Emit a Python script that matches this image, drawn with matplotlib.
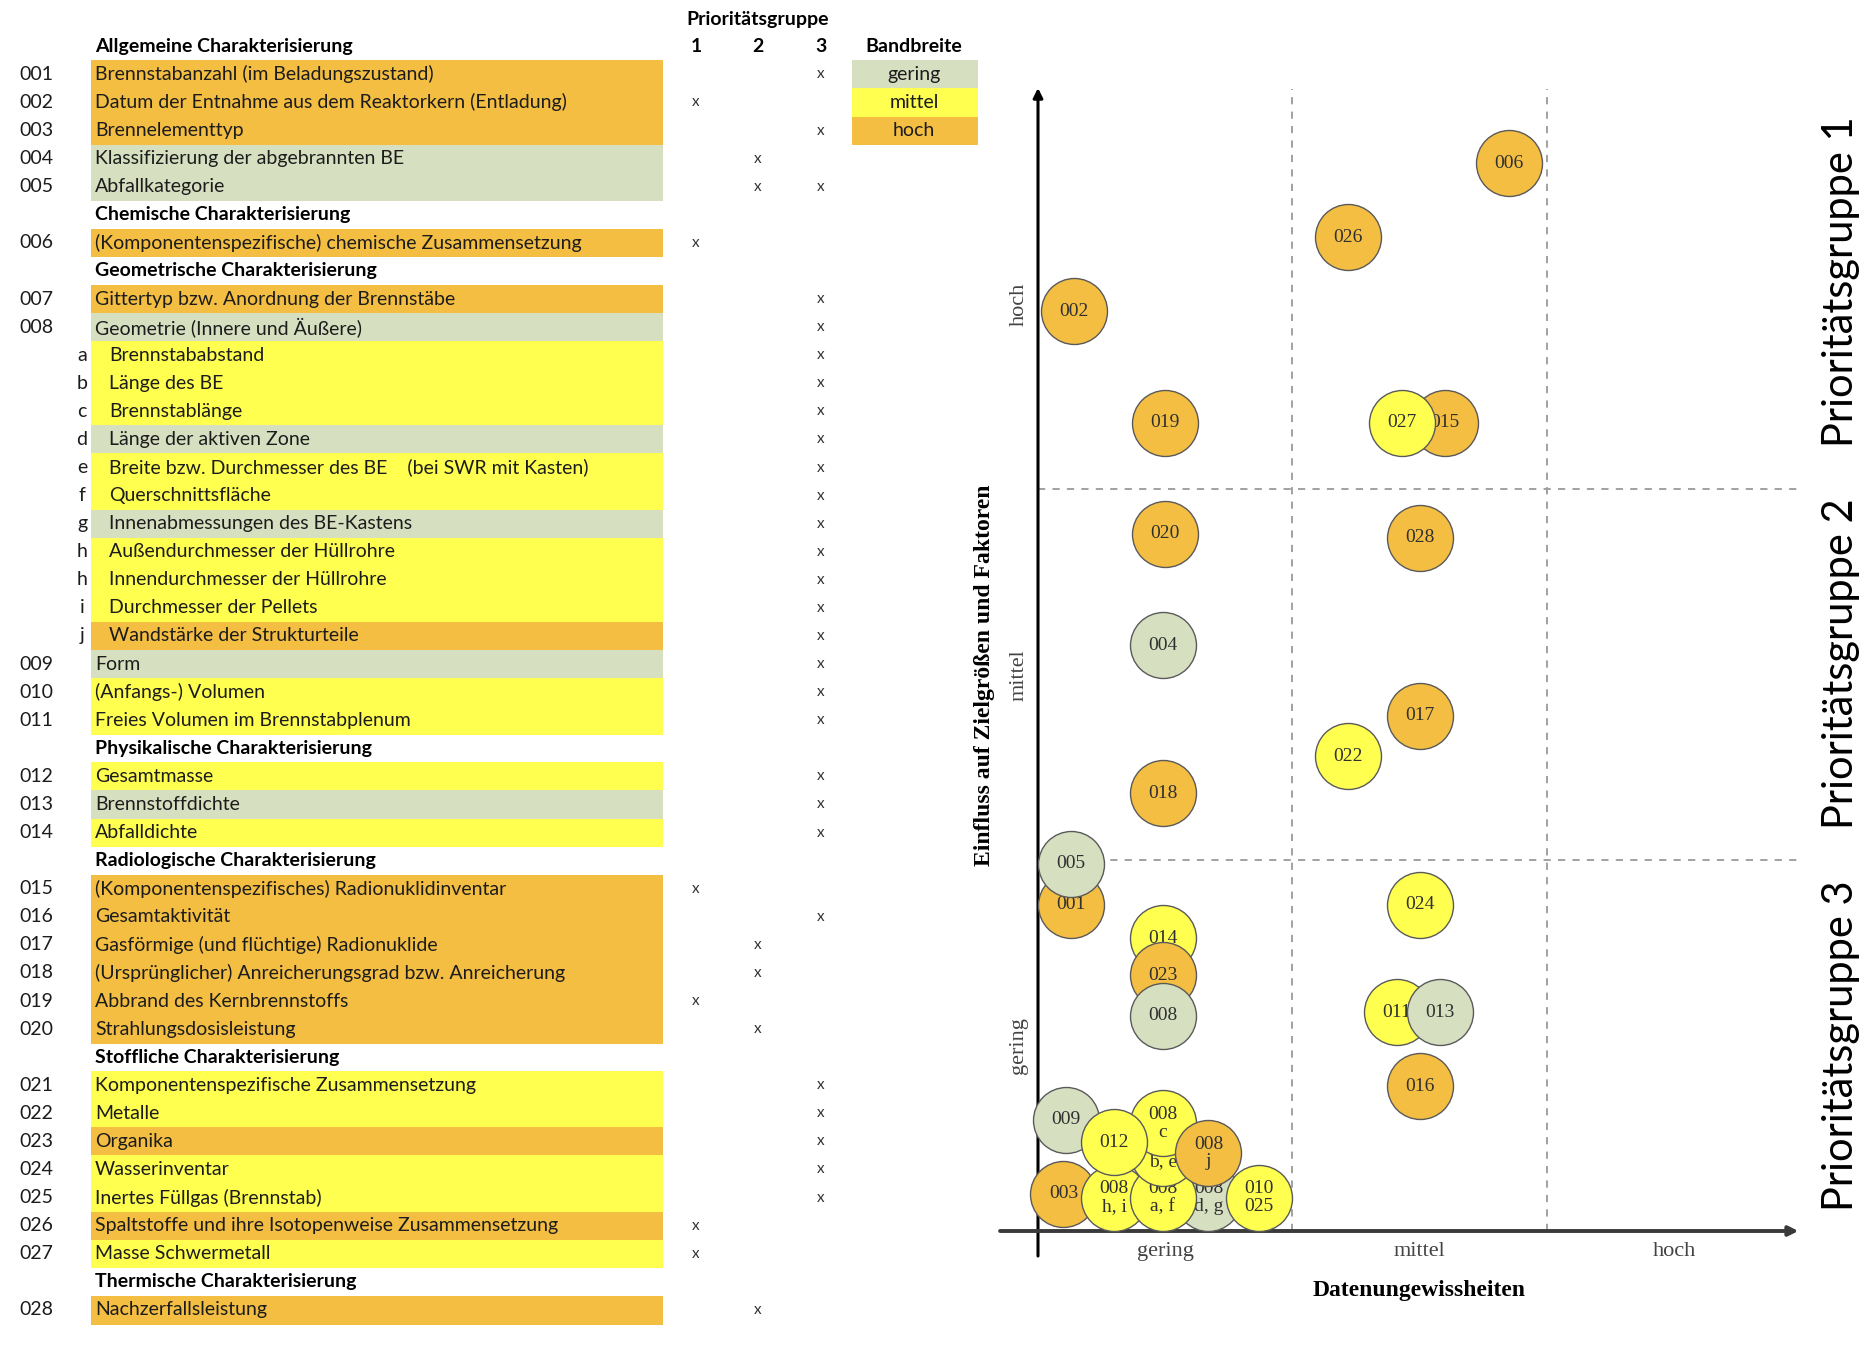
import numpy as np
import matplotlib.pyplot as plt
from matplotlib.patches import Rectangle

# ---- table data (None id = section header) ----
row_ids = [None, '001', '002', '003', '004', '005',
           None, '006',
           None, '007', '008', 'a', 'b', 'c', 'd', 'e', 'f', 'g', 'h', 'h', 'i', 'j',
           '009', '010', '011',
           None, '012', '013', '014',
           None, '015', '016', '017', '018', '019', '020',
           None, '021', '022', '023', '024', '025', '026', '027',
           None, '028']
row_text = ['Allgemeine Charakterisierung',
            'Brennstabanzahl (im Beladungszustand)',
            'Datum der Entnahme aus dem Reaktorkern (Entladung)',
            'Brennelementtyp',
            'Klassifizierung der abgebrannten BE',
            'Abfallkategorie',
            'Chemische Charakterisierung',
            '(Komponentenspezifische) chemische Zusammensetzung',
            'Geometrische Charakterisierung',
            'Gittertyp bzw. Anordnung der Brennstäbe',
            'Geometrie (Innere und Äußere)',
            'Brennstababstand',
            'Länge des BE',
            'Brennstablänge',
            'Länge der aktiven Zone',
            'Breite bzw. Durchmesser des BE    (bei SWR mit Kasten)',
            'Querschnittsfläche',
            'Innenabmessungen des BE-Kastens',
            'Außendurchmesser der Hüllrohre',
            'Innendurchmesser der Hüllrohre',
            'Durchmesser der Pellets',
            'Wandstärke der Strukturteile',
            'Form',
            '(Anfangs-) Volumen',
            'Freies Volumen im Brennstabplenum',
            'Physikalische Charakterisierung',
            'Gesamtmasse',
            'Brennstoffdichte',
            'Abfalldichte',
            'Radiologische Charakterisierung',
            '(Komponentenspezifisches) Radionuklidinventar',
            'Gesamtaktivität',
            'Gasförmige (und flüchtige) Radionuklide',
            '(Ursprünglicher) Anreicherungsgrad bzw. Anreicherung',
            'Abbrand des Kernbrennstoffs',
            'Strahlungsdosisleistung',
            'Stoffliche Charakterisierung',
            'Komponentenspezifische Zusammensetzung',
            'Metalle',
            'Organika',
            'Wasserinventar',
            'Inertes Füllgas (Brennstab)',
            'Spaltstoffe und ihre Isotopenweise Zusammensetzung',
            'Masse Schwermetall',
            'Thermische Charakterisierung',
            'Nachzerfallsleistung']
row_band = ['', 'hoch', 'hoch', 'hoch', 'gering', 'gering',
            '', 'hoch',
            '', 'hoch', 'gering', 'mittel', 'mittel', 'mittel', 'gering', 'mittel', 'mittel',
            'gering', 'mittel', 'mittel', 'mittel', 'hoch',
            'gering', 'mittel', 'mittel',
            '', 'mittel', 'gering', 'mittel',
            '', 'hoch', 'hoch', 'hoch', 'hoch', 'hoch', 'hoch',
            '', 'mittel', 'mittel', 'hoch', 'mittel', 'mittel', 'hoch', 'mittel',
            '', 'hoch']
row_prio = ['', '3', '1', '3', '2', '23',
            '', '1',
            '', '3', '3', '3', '3', '3', '3', '3', '3', '3', '3', '3', '3', '3',
            '3', '3', '3',
            '', '3', '3', '3',
            '', '1', '3', '2', '2', '1', '2',
            '', '3', '3', '3', '3', '3', '1', '1',
            '', '2']

# ---- bubble data, in drawing order (later = on top) ----
bub_label = ['006', '026', '002', '019', '015', '027', '020', '028', '004', '017',
             '022', '018', '001', '005', '024', '014', '023', '008', '011', '013',
             '016', '009', '003', '008\nd, g', '008\nh, i', '008\na, f', '008\nb, e',
             '008\nc', '012', '008\nj', '010\n025']
bub_x = [2.35, 1.72, 0.64, 1.00, 2.10, 1.93, 1.00, 2.00, 0.99, 2.00,
         1.72, 0.99, 0.63, 0.63, 2.00, 0.99, 0.99, 0.99, 1.91, 2.08,
         2.00, 0.61, 0.60, 1.17, 0.80, 0.99, 0.99,
         0.99, 0.80, 1.17, 1.37]
bub_y = [2.88, 2.68, 2.48, 2.18, 2.18, 2.18, 1.88, 1.87, 1.58, 1.39,
         1.28, 1.18, 0.88, 0.99, 0.88, 0.79, 0.69, 0.58, 0.59, 0.59,
         0.39, 0.30, 0.10, 0.09, 0.09, 0.09, 0.21,
         0.29, 0.24, 0.21, 0.09]
bub_band = ['hoch', 'hoch', 'hoch', 'hoch', 'hoch', 'mittel', 'hoch', 'hoch', 'gering', 'hoch',
            'mittel', 'hoch', 'hoch', 'gering', 'mittel', 'mittel', 'hoch', 'gering', 'mittel', 'gering',
            'hoch', 'gering', 'hoch', 'gering', 'mittel', 'mittel', 'mittel',
            'mittel', 'mittel', 'hoch', 'mittel']

cat_labels = ['gering', 'mittel', 'hoch']
group_labels = ['Prioritätsgruppe 1', 'Prioritätsgruppe 2', 'Prioritätsgruppe 3']

band_colors = {'gering': '#d7dfc1', 'mittel': '#ffff50', 'hoch': '#f4be42'}

W, H = 1876, 1358
fig = plt.figure(figsize=(W / 100, H / 100), dpi=100)

# ---------------- table (pixel coordinates) ----------------
tab = fig.add_axes([0, 0, 1, 1])
tab.set_xlim(0, W)
tab.set_ylim(H, 0)
tab.axis('off')

sans = 'Lato'
row_y0, row_h = 46.3, 28.08
band_x0, band_x1 = 91, 663
prio_x = {'1': 696, '2': 758, '3': 821}
txt_col = '#1c1c1c'

for i in range(len(row_ids)):
    y = row_y0 + i * row_h
    rid, txt = row_ids[i], row_text[i]
    if rid is None:
        tab.text(95, y, txt, fontsize=14, fontweight='bold', family=sans,
                 va='center', ha='left', color='black')
        continue
    tab.add_patch(Rectangle((band_x0, y - row_h / 2), band_x1 - band_x0, row_h + 0.6,
                            facecolor=band_colors[row_band[i]], edgecolor='none'))
    if len(rid) == 3:
        tab.text(19, y, rid, fontsize=14, family=sans, va='center', color=txt_col)
        tab.text(95, y, txt, fontsize=14, family=sans, va='center', color=txt_col)
    else:
        tab.text(82, y, rid, fontsize=14, family=sans, va='center', ha='center', color=txt_col)
        tab.text(109, y, txt, fontsize=14, family=sans, va='center', color=txt_col)
    for p in row_prio[i]:
        tab.text(prio_x[p], y, 'x', fontsize=11, family=sans, va='center', ha='center',
                 color='#333333')

tab.text(758, 19, 'Prioritätsgruppe', fontsize=14, fontweight='bold', family=sans,
         ha='center', va='center')
for p, px in prio_x.items():
    tab.text(px, row_y0, p, fontsize=14, fontweight='bold', family=sans,
             ha='center', va='center')
tab.text(914, row_y0, 'Bandbreite', fontsize=14, fontweight='bold', family=sans,
         ha='center', va='center')
for k, name in enumerate(cat_labels):
    y = row_y0 + (k + 1) * row_h
    tab.add_patch(Rectangle((852, y - row_h / 2), 126, row_h + 0.6,
                            facecolor=band_colors[name], edgecolor='none'))
    tab.text(914, y, name, fontsize=14, family=sans, ha='center', va='center', color=txt_col)

# ---------------- bubble chart ----------------
px_x0, px_xu = 1038, 254.4   # pixel of x=0.5 and pixels per unit
px_y0, px_yu = 1231, 370.8   # pixel of y=0 and pixels per unit
xlim = (0.2, 3.6)
ylim = (-0.2, 3.2)
left = px_x0 + (xlim[0] - 0.5) * px_xu
right = px_x0 + (xlim[1] - 0.5) * px_xu
top = px_y0 - ylim[1] * px_yu
bottom = px_y0 - ylim[0] * px_yu
ax = fig.add_axes([left / W, 1 - bottom / H, (right - left) / W, (bottom - top) / H])
ax.set_xlim(xlim)
ax.set_ylim(ylim)
ax.axis('off')
ax.patch.set_alpha(0)

serif = 'Liberation Serif'

# grid
for xv in [1.5, 2.5]:
    ax.plot([xv, xv], [0, 3.08], ls=(0, (4, 4)), color='#9a9a9a', lw=1.3, zorder=1)
for yv in [1, 2]:
    ax.plot([0.5, 3.495], [yv, yv], ls=(0, (4, 4)), color='#9a9a9a', lw=1.3, zorder=1)

# axes with arrows
ax.annotate('', xy=(0.5, 3.09), xytext=(0.5, -0.075),
            arrowprops=dict(arrowstyle='-|>', lw=2.2, color='black', mutation_scale=14))
ax.annotate('', xy=(3.5, 0), xytext=(0.34, 0),
            arrowprops=dict(arrowstyle='-|>', lw=2.8, color='#3a3a3a', mutation_scale=14))

# bubbles
r_px = 33
size = (2 * r_px * 72 / 100) ** 2
for k in range(len(bub_label)):
    ax.scatter(bub_x[k], bub_y[k], s=size, c=band_colors[bub_band[k]],
               edgecolors='#5a5a5a', linewidths=1.0, zorder=10 + 2 * k)
    ax.text(bub_x[k], bub_y[k], bub_label[k], family=serif, fontsize=14,
            ha='center', va='center', color='#303030', linespacing=1.05,
            zorder=11 + 2 * k)

# category labels
for k, name in enumerate(cat_labels):
    ax.text(k + 1, -0.055, name, family=serif, fontsize=16, ha='center', va='center',
            color='#444444')
    ax.text(0.425, k + 0.5, name, family=serif, fontsize=16,
            ha='center', va='center', rotation=90, color='#444444')

ax.text(2.0, -0.16, 'Datenungewissheiten', family=serif, fontsize=17,
        fontweight='bold', ha='center', va='center')
ax.text(0.288, 1.5, 'Einfluss auf Zielgrößen und Faktoren', family=serif, fontsize=17,
        fontweight='bold', ha='center', va='center', rotation=90)

for k, name in enumerate(group_labels):
    ax.text(3.656, 2.56 - k * 1.03, name, family=sans, fontsize=30, ha='center',
            va='center', rotation=90, clip_on=False)

fig.savefig('out.png', dpi=100)
